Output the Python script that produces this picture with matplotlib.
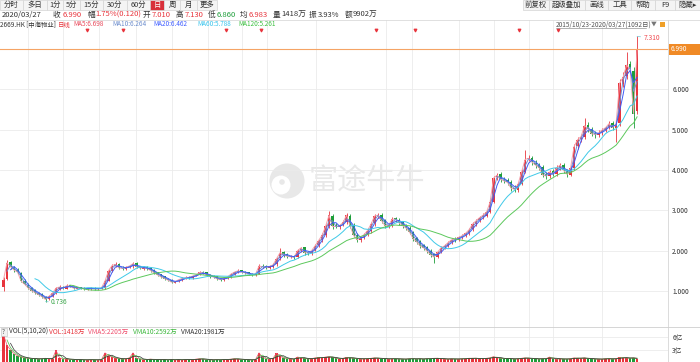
import numpy as np
import pandas as pd
import matplotlib
matplotlib.use('Agg')
import matplotlib.pyplot as plt
from matplotlib.patches import Rectangle, Circle

plt.rcParams['font.family'] = ['Noto Sans CJK SC', 'DejaVu Sans']

# 2669.HK 中海物业, 2015/10/23 - 2020/03/27, one candle per ~6 trading days
opens = [1.10, 1.30, 1.72, 1.58, 1.53, 1.45, 1.26, 1.16, 1.07, 1.02,
         0.95, 0.92, 0.85, 0.80, 0.88, 0.96, 1.06, 1.11, 1.06, 1.14,
         1.11, 1.06, 1.09, 1.07, 1.04, 1.05, 1.08, 1.04, 1.06, 1.08,
         1.26, 1.49, 1.62, 1.67, 1.58, 1.55, 1.60, 1.61, 1.69, 1.61,
         1.55, 1.59, 1.57, 1.52, 1.46, 1.41, 1.36, 1.30, 1.28, 1.21,
         1.24, 1.27, 1.32, 1.35, 1.33, 1.38, 1.41, 1.47, 1.46, 1.40,
         1.37, 1.36, 1.31, 1.27, 1.33, 1.34, 1.43, 1.46, 1.51, 1.48,
         1.46, 1.43, 1.39, 1.43, 1.63, 1.61, 1.58, 1.60, 1.66, 1.81,
         1.96, 1.91, 1.84, 1.87, 1.85, 2.01, 2.08, 1.96, 1.93, 2.01,
         2.13, 2.26, 2.39, 2.61, 2.86, 2.63, 2.58, 2.64, 2.71, 2.86,
         2.64, 2.40, 2.26, 2.33, 2.41, 2.49, 2.68, 2.85, 2.89, 2.75,
         2.60, 2.63, 2.80, 2.77, 2.70, 2.63, 2.57, 2.47, 2.31, 2.23,
         2.13, 2.08, 2.00, 1.91, 1.85, 1.97, 2.08, 2.11, 2.21, 2.30,
         2.27, 2.34, 2.38, 2.44, 2.53, 2.67, 2.75, 2.84, 2.87, 2.97,
         3.21, 3.82, 3.89, 3.76, 3.74, 3.70, 3.56, 3.50, 3.66, 3.96,
         4.27, 4.30, 4.18, 4.13, 4.07, 3.89, 3.84, 3.97, 3.89, 4.06,
         4.13, 3.98, 3.87, 4.06, 4.59, 4.77, 4.82, 5.12, 5.00, 4.91,
         4.86, 4.93, 5.00, 5.06, 5.16, 5.03, 5.17, 6.12, 6.32, 6.62,
         6.45, 5.45]
highs = [1.35, 1.76, 1.74, 1.62, 1.56, 1.48, 1.29, 1.19, 1.10, 1.04,
         0.98, 0.94, 0.87, 0.89, 0.98, 1.10, 1.14, 1.13, 1.17, 1.16,
         1.13, 1.10, 1.11, 1.09, 1.08, 1.09, 1.10, 1.08, 1.10, 1.29,
         1.54, 1.66, 1.72, 1.69, 1.61, 1.62, 1.65, 1.73, 1.71, 1.63,
         1.61, 1.61, 1.59, 1.54, 1.48, 1.43, 1.38, 1.32, 1.30, 1.26,
         1.31, 1.34, 1.36, 1.38, 1.40, 1.43, 1.49, 1.50, 1.48, 1.42,
         1.39, 1.38, 1.33, 1.35, 1.38, 1.45, 1.50, 1.54, 1.53, 1.50,
         1.48, 1.45, 1.45, 1.66, 1.66, 1.64, 1.64, 1.69, 1.84, 2.07,
         1.99, 1.94, 1.89, 1.90, 2.05, 2.10, 2.10, 1.99, 2.03, 2.16,
         2.30, 2.43, 2.66, 2.98, 2.90, 2.68, 2.67, 2.75, 2.94, 2.90,
         2.68, 2.44, 2.37, 2.45, 2.55, 2.71, 2.92, 2.93, 2.93, 2.79,
         2.67, 2.83, 2.84, 2.82, 2.73, 2.67, 2.60, 2.50, 2.35, 2.27,
         2.17, 2.12, 2.04, 1.95, 2.00, 2.11, 2.16, 2.24, 2.31, 2.34,
         2.37, 2.41, 2.47, 2.57, 2.71, 2.79, 2.87, 2.93, 3.02, 3.30,
         3.86, 3.93, 3.94, 3.82, 3.79, 3.74, 3.62, 3.70, 4.02, 4.50,
         4.38, 4.35, 4.24, 4.18, 4.12, 3.96, 4.00, 4.02, 4.12, 4.18,
         4.17, 4.03, 4.10, 4.65, 4.82, 4.90, 5.28, 5.18, 5.06, 4.96,
         4.98, 5.05, 5.10, 5.22, 5.22, 5.22, 6.25, 6.42, 6.92, 6.70,
         6.55, 7.31]
lows = [1.00, 1.28, 1.55, 1.48, 1.43, 1.22, 1.14, 1.05, 0.98, 0.93,
        0.88, 0.83, 0.736, 0.78, 0.86, 0.93, 1.03, 1.04, 1.04, 1.09,
        1.05, 1.04, 1.05, 1.03, 1.02, 1.03, 1.03, 1.02, 1.04, 1.06,
        1.24, 1.46, 1.59, 1.55, 1.53, 1.52, 1.56, 1.58, 1.57, 1.54,
        1.52, 1.53, 1.48, 1.42, 1.37, 1.32, 1.28, 1.24, 1.19, 1.19,
        1.22, 1.25, 1.29, 1.31, 1.31, 1.36, 1.39, 1.42, 1.36, 1.33,
        1.32, 1.27, 1.25, 1.25, 1.30, 1.32, 1.40, 1.44, 1.44, 1.42,
        1.39, 1.37, 1.37, 1.41, 1.56, 1.55, 1.55, 1.57, 1.63, 1.78,
        1.85, 1.82, 1.81, 1.80, 1.82, 1.96, 1.90, 1.89, 1.90, 1.98,
        2.10, 2.22, 2.34, 2.56, 2.54, 2.55, 2.54, 2.60, 2.66, 2.57,
        2.33, 2.22, 2.22, 2.28, 2.37, 2.45, 2.62, 2.80, 2.69, 2.57,
        2.55, 2.58, 2.72, 2.64, 2.57, 2.51, 2.41, 2.25, 2.17, 2.07,
        2.02, 1.94, 1.85, 1.70, 1.82, 1.93, 2.04, 2.08, 2.16, 2.22,
        2.24, 2.30, 2.35, 2.40, 2.49, 2.62, 2.70, 2.78, 2.83, 2.93,
        3.18, 3.76, 3.71, 3.67, 3.63, 3.49, 3.46, 3.46, 3.62, 3.92,
        4.22, 4.12, 4.06, 4.00, 3.82, 3.78, 3.80, 3.84, 3.85, 4.00,
        3.93, 3.82, 3.84, 4.00, 4.52, 4.70, 4.78, 4.95, 4.85, 4.80,
        4.82, 4.86, 4.95, 5.02, 4.98, 4.70, 5.10, 6.05, 6.25, 6.35,
        5.05, 5.40]
closes = [1.28, 1.70, 1.60, 1.52, 1.47, 1.25, 1.17, 1.08, 1.01, 0.96,
          0.91, 0.86, 0.79, 0.87, 0.95, 1.07, 1.10, 1.07, 1.13, 1.12,
          1.07, 1.08, 1.07, 1.05, 1.06, 1.07, 1.05, 1.06, 1.08, 1.25,
          1.50, 1.63, 1.66, 1.57, 1.56, 1.59, 1.62, 1.68, 1.60, 1.57,
          1.58, 1.56, 1.51, 1.45, 1.40, 1.35, 1.31, 1.27, 1.22, 1.23,
          1.28, 1.31, 1.33, 1.34, 1.37, 1.40, 1.46, 1.45, 1.39, 1.36,
          1.35, 1.30, 1.28, 1.32, 1.35, 1.42, 1.47, 1.50, 1.47, 1.45,
          1.42, 1.40, 1.42, 1.62, 1.60, 1.59, 1.61, 1.65, 1.80, 1.95,
          1.90, 1.86, 1.85, 1.84, 2.00, 2.07, 1.95, 1.94, 2.00, 2.12,
          2.25, 2.38, 2.60, 2.88, 2.60, 2.60, 2.62, 2.70, 2.88, 2.62,
          2.38, 2.27, 2.32, 2.40, 2.50, 2.66, 2.86, 2.88, 2.74, 2.62,
          2.62, 2.78, 2.78, 2.69, 2.62, 2.56, 2.46, 2.30, 2.22, 2.12,
          2.07, 1.99, 1.90, 1.84, 1.96, 2.07, 2.12, 2.20, 2.27, 2.28,
          2.33, 2.37, 2.43, 2.52, 2.66, 2.74, 2.82, 2.88, 2.96, 3.20,
          3.80, 3.87, 3.77, 3.73, 3.69, 3.55, 3.52, 3.65, 3.95, 4.26,
          4.29, 4.19, 4.12, 4.06, 3.88, 3.85, 3.95, 3.90, 4.05, 4.12,
          3.99, 3.89, 4.05, 4.58, 4.75, 4.83, 5.10, 5.02, 4.90, 4.88,
          4.92, 4.99, 5.05, 5.15, 5.05, 5.15, 6.15, 6.30, 6.60, 6.50,
          5.40, 6.99]
# volume in 亿股
volumes = [6.6, 4.0, 2.9, 2.0, 1.5, 1.2, 1.0, 0.9, 0.8, 0.8,
           0.7, 0.8, 0.9, 0.7, 0.8, 2.8, 1.0, 0.7, 0.8, 0.6,
           0.6, 0.5, 0.6, 0.5, 0.5, 0.6, 0.5, 0.5, 0.6, 2.2,
           1.5, 1.2, 0.9, 0.8, 0.7, 0.8, 1.0, 2.2, 0.9, 0.7,
           0.6, 0.6, 0.7, 0.6, 0.6, 0.5, 0.6, 0.5, 0.6, 0.5,
           0.6, 0.5, 0.6, 0.6, 0.5, 0.7, 0.8, 0.7, 0.6, 0.5,
           0.5, 0.6, 0.5, 0.6, 0.6, 0.7, 0.8, 0.7, 0.6, 0.6,
           0.5, 0.5, 0.6, 2.2, 1.1, 0.8, 0.7, 0.9, 2.1, 1.4,
           1.0, 0.8, 0.7, 0.7, 1.2, 1.0, 0.9, 0.7, 0.8, 1.0,
           1.1, 1.0, 1.2, 1.3, 1.1, 0.9, 0.8, 0.9, 1.1, 1.0,
           0.9, 0.8, 0.7, 0.8, 0.8, 0.9, 1.0, 0.9, 0.8, 0.8,
           0.7, 0.8, 0.8, 0.7, 0.7, 0.7, 0.8, 0.8, 0.7, 0.8,
           0.7, 0.8, 0.8, 0.9, 0.9, 0.8, 0.7, 0.7, 0.8, 0.7,
           0.7, 0.8, 0.8, 0.9, 0.9, 0.9, 0.8, 0.8, 0.9, 1.0,
           1.3, 1.0, 0.9, 0.8, 0.8, 0.8, 0.7, 0.8, 0.9, 1.0,
           0.9, 0.8, 0.8, 0.7, 0.8, 0.8, 1.2, 0.8, 0.7, 0.8,
           0.7, 0.7, 0.8, 1.0, 0.9, 0.9, 1.0, 0.8, 0.8, 0.7,
           0.7, 0.7, 0.8, 0.8, 0.7, 0.8, 1.1, 1.0, 1.0, 0.9,
           1.0, 0.8]

total_days = 1092
days_per_bar = 6
ma_periods = [5, 10, 20, 60, 120]
ma_colors = ['#f5a3ad', '#6f8fd0', '#3f5bf5', '#3fc9e8', '#5cc85c']
vma_periods = [5, 10, 20]
vma_colors = ['#f0506e', '#4cbf4c', '#333333']

dividend_days = [148, 210, 386, 446, 644, 710, 889, 956]
grid_days = [47, 107, 169, 232, 294, 356, 414, 457, 541, 661, 705, 786, 846,
             906, 947, 1031]

left_btns = ['分时', '多日', '1分', '5分', '15分', '30分', '60分', '日', '周', '月', '更多']
left_edges = [0, 23, 47, 63, 80, 103, 127, 150, 164, 180, 197, 217]
right_btns = ['前复权', '超级叠加', '画线', '工具', '帮助', 'F9', '隐藏▸']
right_edges = [523, 549, 585, 608, 631, 655, 675, 703]

RED = '#e8343c'
GREEN = '#1d9e3a'
K = '#333333'

quote_row = [(2, '2020/03/27', K), (53, '收', K), (63, '6.990', RED),
             (87, '幅', K), (95, '1.75%(0.120)', RED), (143, '开', K),
             (152, '7.010', RED), (176, '高', K), (185, '7.130', RED),
             (208, '低', K), (217, '6.860', GREEN), (240, '均', K),
             (249, '6.983', RED), (273, '量', K), (281, '1418万', K),
             (309, '振', K), (318, '3.93%', K), (345, '额', K), (353, '9902万', K)]
ma_row = [(-0.5, '2669.HK [中海物业]', K), (58, '日线', RED),
          (73, 'MA5:6.698', '#e8485a'), (112, 'MA10:6.264', '#6b8ccc'),
          (153, 'MA20:6.462', '#3d5cff'), (197, 'MA60:5.788', '#35c3ec'),
          (238, 'MA120:5.261', '#3cc040')]
vol_row = [(9, 'VOL(5,10,20)', K), (49, 'VOL:1418万', RED),
           (88, 'VMA5:2205万', '#f0506e'), (133, 'VMA10:2592万', '#3cb83c'),
           (181, 'VMA20:1981万', K)]

W, H = 700, 362
n = len(closes)
days = total_days - 1 - days_per_bar * np.arange(n)[::-1]
o = np.array(opens)
c = np.array(closes)
up = c >= o
colors = np.where(up, RED, GREEN)

fig = plt.figure(figsize=(W / 100, H / 100), dpi=100)

bg = fig.add_axes([0, 0, 1, 1])
bg.set_xlim(0, W)
bg.set_ylim(H, 0)
bg.axis('off')
bg.set_zorder(0)

ax = fig.add_axes([0, 35 / H, 668 / W, 307 / H])
vax = fig.add_axes([0, 0, 668 / W, 35 / H])
for a in (ax, vax):
    a.set_zorder(1)
    a.patch.set_visible(False)
    for s in a.spines.values():
        s.set_visible(False)
    a.set_xlim(-1, 1144)
    a.set_xticks(grid_days)
    a.set_xticklabels([])
    a.grid(True, color='#ebebeb', lw=0.6)
    a.set_axisbelow(True)
    a.tick_params(axis='both', length=0, pad=3, labelsize=4.8, labelcolor=K,
                  right=False, labelright=True, left=False, labelleft=False)

# watermark
bg.add_patch(Circle((287, 181), 17.5, fc='#e8e8e8', ec='none'))
bg.add_patch(Circle((281, 185), 9.5, fc='white', ec='none'))
bg.add_patch(Circle((282, 182), 2.8, fc='#e8e8e8', ec='none'))
bg.text(309, 182, '富途牛牛', fontsize=21, color='#e8e8e8', va='center', ha='left')

# candles
ax.vlines(days, lows, highs, colors=colors, lw=0.6, zorder=2)
ax.bar(days, np.maximum(np.abs(c - o), 0.012), bottom=np.minimum(o, c),
       width=4.0, color=colors, lw=0, zorder=2)

s = pd.Series(closes)
for p, col in zip(ma_periods, ma_colors):
    w = max(1, round(p / days_per_bar))
    ax.plot(days, s.rolling(w).mean(), color=col, lw=0.7, zorder=3)

ax.set_ylim(0.108, 7.718)
ax.set_yticks([1, 2, 3, 4, 5, 6])
ax.set_yticklabels(['%.3f' % v for v in [1, 2, 3, 4, 5, 6]])

# last price line + tag
last = closes[-1]
ax.axhline(last, color='#f5a465', lw=0.8, zorder=4)
tr = ax.get_yaxis_transform()
ax.add_patch(Rectangle((1.0015, last - 0.135), 0.05, 0.27, transform=tr,
                       fc='#f08a26', ec='none', clip_on=False, zorder=5))
ax.text(1.004, last, '%.3f' % last, transform=tr, fontsize=4.8, color='white',
        va='center', ha='left', clip_on=False, zorder=6)

# extreme labels
ih = int(np.argmax(highs))
il = int(np.argmin(lows))
ax.annotate('%.3f' % highs[ih], xy=(days[ih], highs[ih]), xytext=(4.5, -1),
            textcoords='offset points', fontsize=4.8, color='#f04a50', va='center',
            arrowprops=dict(arrowstyle='-', color='#6fc6d6', lw=0.5,
                            shrinkA=0, shrinkB=0))
ax.annotate('%.3f' % lows[il], xy=(days[il], lows[il]), xytext=(4, -0.5),
            textcoords='offset points', fontsize=4.8, color='#3aa64a', va='center',
            arrowprops=dict(arrowstyle='-', color='#6fc6d6', lw=0.5,
                            shrinkA=0, shrinkB=0))

# dividend flags
ax.scatter(dividend_days, [0.967] * len(dividend_days), marker='v', s=3,
           color='#e8343c', transform=ax.get_xaxis_transform(), zorder=5,
           clip_on=False)

# volume
vax.bar(days, volumes, width=4.5, color=colors, lw=0, zorder=2)
vs = pd.Series(volumes)
for p, col in zip(vma_periods, vma_colors):
    w = max(1, round(p / days_per_bar))
    vax.plot(days, vs.rolling(w).mean(), color=col, lw=0.5, zorder=3)
vax.set_ylim(0, 8.4)
vax.set_yticks([3, 6])
vax.set_yticklabels(['3亿', '6亿'])

# overlay chrome
tax = fig.add_axes([0, 0, 1, 1])
tax.set_xlim(0, W)
tax.set_ylim(H, 0)
tax.axis('off')
tax.set_zorder(3)

for lab, x0, x1 in zip(left_btns, left_edges[:-1], left_edges[1:]):
    active = lab == '日'
    tax.add_patch(Rectangle((x0, 0), x1 - x0, 9.5, fc='#d8303a' if active else '#f4f4f4',
                            ec='#d4d4d4', lw=0.5))
    tax.text((x0 + x1) / 2, 4.8, lab, fontsize=5.3, ha='center', va='center',
             color='white' if active else K)
for lab, x0, x1 in zip(right_btns, right_edges[:-1], right_edges[1:]):
    tax.add_patch(Rectangle((x0, 0), x1 - x0, 9.5, fc='#f4f4f4', ec='#d4d4d4', lw=0.5))
    tax.text((x0 + x1) / 2 if lab != '隐藏▸' else x0 + 3, 4.8, lab, fontsize=5.3,
             ha='center' if lab != '隐藏▸' else 'left', va='center', color=K)

for x, t, col in quote_row:
    tax.text(x, 14.8, t, fontsize=5.5, color=col, ha='left', va='center')
tax.plot([0, W], [19.5, 19.5], color='#dadada', lw=0.6)

for x, t, col in ma_row:
    tax.text(x, 24.5, t, fontsize=4.6, color=col, ha='left', va='center')

tax.text(556, 24.5, '2015/10/23-2020/03/27(1092日)', fontsize=4.7, color='#555555',
         ha='left', va='center')
tax.plot([556, 646], [28.2, 28.2], color='#777777', lw=0.4)
tax.text(651, 24.5, '▼', fontsize=4.2, color='#777777', ha='left', va='center')
tax.add_patch(Rectangle((660, 22), 4.5, 4.5, fc='#f0a028', ec='none'))

tax.plot([668, 668], [19.5, H], color='#d6d6d6', lw=0.6)
tax.plot([0, W], [327, 327], color='#cfcfcf', lw=0.6)

tax.add_patch(Rectangle((0.5, 328.3), 6, 7.2, fc='#f2f2f2', ec='#bdbdbd', lw=0.4))
tax.text(3.5, 331.9, '?', fontsize=4.5, color='#555555', ha='center', va='center')
for x, t, col in vol_row:
    tax.text(x, 331.9, t, fontsize=4.8, color=col, ha='left', va='center')

fig.savefig('out.png', dpi=100)
